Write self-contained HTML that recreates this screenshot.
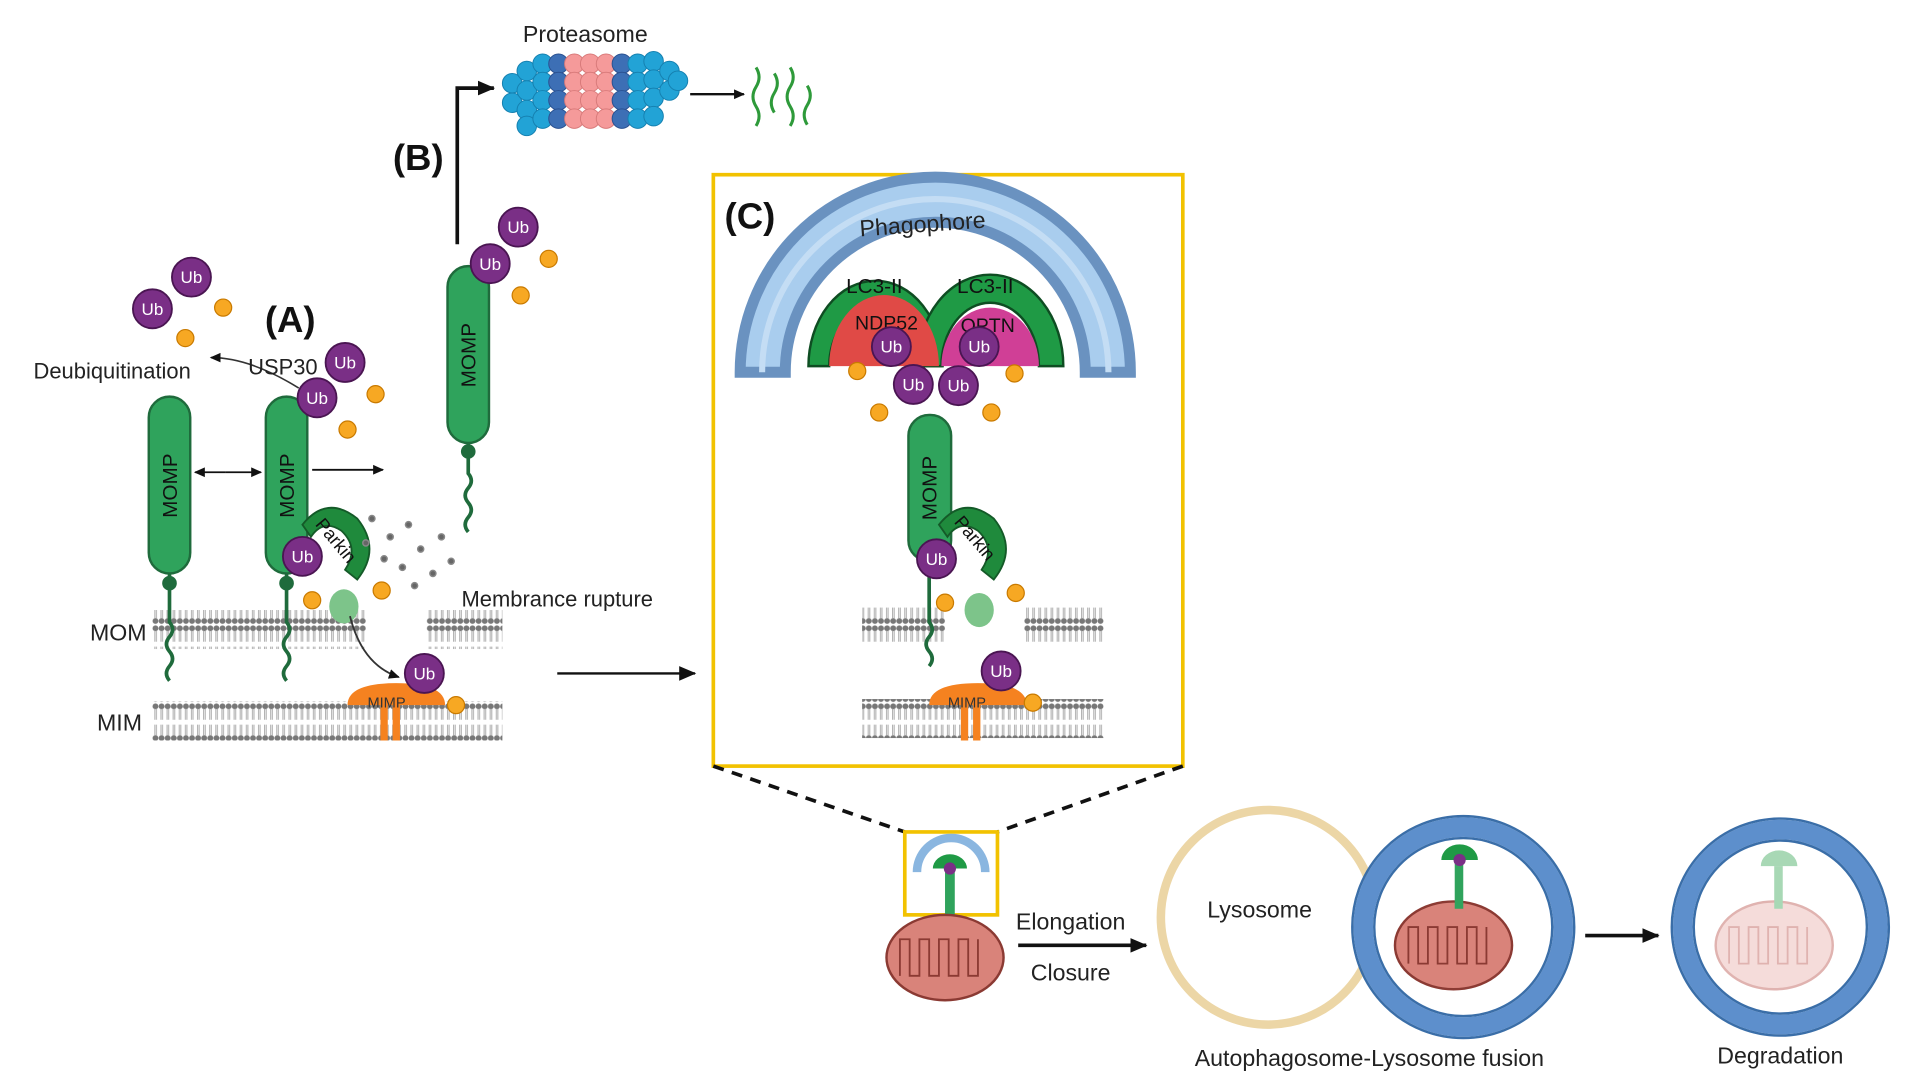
<!DOCTYPE html>
<html><head><meta charset="utf-8"><style>
html,body{margin:0;padding:0;background:#fff;}
svg{display:block;}
text{font-family:"Liberation Sans",sans-serif;}
</style></head><body>
<svg width="1912" height="1092" viewBox="0 0 1568 895" xmlns="http://www.w3.org/2000/svg">
<defs>
<pattern id="mem" x="0" y="0" width="5" height="32" patternUnits="userSpaceOnUse">
<circle cx="2.5" cy="3" r="2.4" fill="#777"/>
<circle cx="2.5" cy="29" r="2.4" fill="#777"/>
<line x1="2" y1="5" x2="2" y2="14" stroke="#aaa" stroke-width="0.8"/>
<line x1="3.3" y1="5" x2="3.3" y2="14" stroke="#aaa" stroke-width="0.8"/>
<line x1="2" y1="18" x2="2" y2="27" stroke="#aaa" stroke-width="0.8"/>
<line x1="3.3" y1="18" x2="3.3" y2="27" stroke="#aaa" stroke-width="0.8"/>
</pattern>
<marker id="ar" markerWidth="16" markerHeight="16" refX="13" refY="8" orient="auto" markerUnits="userSpaceOnUse"><path d="M0,2 L14,8 L0,14 Z" fill="#111"/></marker>
<marker id="as" markerWidth="10" markerHeight="10" refX="8" refY="5" orient="auto" markerUnits="userSpaceOnUse"><path d="M0,1 L9,5 L0,9 Z" fill="#111"/></marker>
<g id="ub"><circle r="16" fill="#7a2f86" stroke="#4a1552" stroke-width="1.5"/></g>
<g id="ph"><circle r="7" fill="#f7a823" stroke="#c97a00" stroke-width="1"/></g>
<g id="cb"><circle r="8" fill="#22a3d6" stroke="#1580b0" stroke-width="0.8"/></g>
<g id="cd"><circle r="8" fill="#3d6fb5" stroke="#2a5090" stroke-width="0.8"/></g>
<g id="cp"><circle r="8" fill="#f59a9a" stroke="#d87a7a" stroke-width="0.8"/></g>
</defs>

<!-- Proteasome -->
<text x="480" y="34" font-size="19" text-anchor="middle" fill="#222">Proteasome</text>
<g>
<use href="#cb" x="420" y="68"/><use href="#cb" x="420" y="84"/>
<use href="#cb" x="432" y="58"/><use href="#cb" x="432" y="74"/><use href="#cb" x="432" y="90"/><use href="#cb" x="432" y="103"/>
<use href="#cb" x="445" y="52"/><use href="#cb" x="445" y="67"/><use href="#cb" x="445" y="82"/><use href="#cb" x="445" y="97"/>
<use href="#cd" x="458" y="52"/><use href="#cd" x="458" y="67"/><use href="#cd" x="458" y="82"/><use href="#cd" x="458" y="97"/>
<use href="#cp" x="471" y="52"/><use href="#cp" x="471" y="67"/><use href="#cp" x="471" y="82"/><use href="#cp" x="471" y="97"/>
<use href="#cp" x="484" y="52"/><use href="#cp" x="484" y="67"/><use href="#cp" x="484" y="82"/><use href="#cp" x="484" y="97"/>
<use href="#cp" x="497" y="52"/><use href="#cp" x="497" y="67"/><use href="#cp" x="497" y="82"/><use href="#cp" x="497" y="97"/>
<use href="#cd" x="510" y="52"/><use href="#cd" x="510" y="67"/><use href="#cd" x="510" y="82"/><use href="#cd" x="510" y="97"/>
<use href="#cb" x="523" y="52"/><use href="#cb" x="523" y="67"/><use href="#cb" x="523" y="82"/><use href="#cb" x="523" y="97"/>
<use href="#cb" x="536" y="50"/><use href="#cb" x="536" y="65"/><use href="#cb" x="536" y="80"/><use href="#cb" x="536" y="95"/>
<use href="#cb" x="549" y="58"/><use href="#cb" x="549" y="74"/><use href="#cb" x="556" y="66"/>
</g>
<line x1="566" y1="77" x2="610" y2="77" stroke="#111" stroke-width="2" marker-end="url(#as)"/>
<g stroke="#2e9a3a" stroke-width="2.5" fill="none">
<path d="M620,55 q5,8 0,16 q-5,8 0,16 q5,8 0,16"/>
<path d="M635,60 q5,8 0,16 q-5,8 0,16"/>
<path d="M648,55 q5,8 0,16 q-5,8 0,16 q5,8 0,16"/>
<path d="M662,70 q5,8 0,16 q-5,8 0,16"/>
</g>
<path d="M375,200 L375,72 L405,72" stroke="#111" stroke-width="3" fill="none" marker-end="url(#ar)"/>
<text x="343" y="139" font-size="30" font-weight="bold" text-anchor="middle" fill="#111">(B)</text>
<text x="238" y="272" font-size="30" font-weight="bold" text-anchor="middle" fill="#111">(A)</text>

<!-- Membranes A -->
<rect x="125" y="500" width="175" height="32" fill="url(#mem)"/>
<rect x="350" y="500" width="62" height="32" fill="url(#mem)"/>
<rect x="125" y="575" width="287" height="32" fill="url(#mem)"/>
<text x="97" y="525" font-size="19" text-anchor="middle" fill="#222">MOM</text>
<text x="98" y="599" font-size="19" text-anchor="middle" fill="#222">MIM</text>
<text x="457" y="497" font-size="18" text-anchor="middle" fill="#222">Membrance rupture</text>
<line x1="457" y1="552" x2="570" y2="552" stroke="#111" stroke-width="2" marker-end="url(#ar)"/>

<!-- MOMP rods -->
<g fill="#2fa35c" stroke="#1f6b3c" stroke-width="2">
<rect x="122" y="325" width="34" height="145" rx="17"/>
<rect x="218" y="325" width="34" height="145" rx="17"/>
<rect x="367" y="218" width="34" height="145" rx="17"/>
</g>
<g stroke="#1f6b3c" stroke-width="3" fill="none">
<path d="M139,470 v40 q5,6 0,12 q-5,6 0,12 q5,6 0,12 q-5,6 0,12"/>
<path d="M235,470 v40 q5,6 0,12 q-5,6 0,12 q5,6 0,12 q-5,6 0,12"/>
<path d="M384,363 v25 q5,6 0,12 q-5,6 0,12 q5,6 0,12 q-5,6 0,12"/>
</g>
<g fill="#1f6b3c"><circle cx="139" cy="478" r="6"/><circle cx="235" cy="478" r="6"/><circle cx="384" cy="370" r="6"/></g>
<g font-size="17" fill="#111" text-anchor="middle">
<text transform="translate(145,398) rotate(-90)">MOMP</text>
<text transform="translate(241,398) rotate(-90)">MOMP</text>
<text transform="translate(390,291) rotate(-90)">MOMP</text>
</g>
<line x1="185" y1="387" x2="160" y2="387" stroke="#111" stroke-width="1.5" marker-end="url(#as)"/>
<line x1="185" y1="387" x2="214" y2="387" stroke="#111" stroke-width="1.5" marker-end="url(#as)"/>
<line x1="256" y1="385" x2="314" y2="385" stroke="#111" stroke-width="1.5" marker-end="url(#as)"/>

<!-- Parkin A -->
<path d="M248,430 q20,-25 45,-5 q20,25 0,50 l-10,-8 q12,-18 -3,-32 q-15,-10 -25,5 z" fill="#1f8a3c" stroke="#145a28" stroke-width="1.5"/>
<text transform="translate(258,430) rotate(50)" font-size="15" fill="#111">Parkin</text>
<ellipse cx="282" cy="497" rx="12" ry="14" fill="#7dc48a"/>
<path d="M287,505 q10,40 40,50" stroke="#333" stroke-width="1.5" fill="none" marker-end="url(#as)"/>
<g stroke="#888" stroke-width="1.2" fill="#666">
<circle cx="305" cy="425" r="2.5"/><circle cx="320" cy="440" r="2.5"/><circle cx="335" cy="430" r="2.5"/><circle cx="345" cy="450" r="2.5"/><circle cx="330" cy="465" r="2.5"/><circle cx="355" cy="470" r="2.5"/><circle cx="315" cy="458" r="2.5"/><circle cx="362" cy="440" r="2.5"/><circle cx="340" cy="480" r="2.5"/><circle cx="370" cy="460" r="2.5"/><circle cx="300" cy="445" r="2.5"/>
</g>
<path d="M285,578 q0,-18 40,-18 q40,0 40,18 z" fill="#f58220"/>
<rect x="312" y="575" width="6" height="32" fill="#f58220"/><rect x="322" y="575" width="6" height="32" fill="#f58220"/>
<text x="317" y="580" font-size="12" text-anchor="middle" fill="#333">MIMP</text>

<g>
<use href="#ub" x="157" y="227"/><use href="#ub" x="125" y="253"/>
<use href="#ph" x="183" y="252"/><use href="#ph" x="152" y="277"/>
<use href="#ub" x="283" y="297"/><use href="#ub" x="260" y="326"/>
<use href="#ph" x="308" y="323"/><use href="#ph" x="285" y="352"/>
<use href="#ub" x="425" y="186"/><use href="#ub" x="402" y="216"/>
<use href="#ph" x="450" y="212"/><use href="#ph" x="427" y="242"/>
<use href="#ub" x="248" y="456"/><use href="#ph" x="256" y="492"/><use href="#ph" x="313" y="484"/>
<use href="#ub" x="348" y="552"/><use href="#ph" x="374" y="578"/>
</g>
<g font-size="14" fill="#fff" text-anchor="middle">
<text x="157" y="232">Ub</text><text x="125" y="258">Ub</text><text x="283" y="302">Ub</text><text x="260" y="331">Ub</text>
<text x="425" y="191">Ub</text><text x="402" y="221">Ub</text><text x="248" y="461">Ub</text><text x="348" y="557">Ub</text>
</g>
<path d="M245,318 q-40,-25 -72,-25" stroke="#333" stroke-width="1.3" fill="none" marker-end="url(#as)"/>
<text x="92" y="310" font-size="18" text-anchor="middle" fill="#222">Deubiquitination</text>
<text x="232" y="307" font-size="18" text-anchor="middle" fill="#222">USP30</text>

<!-- Box C -->
<rect x="585" y="143" width="385" height="485" fill="none" stroke="#f2c200" stroke-width="3"/>
<text x="615" y="187" font-size="30" font-weight="bold" text-anchor="middle" fill="#111">(C)</text>
<path d="M607,305 A160,160 0 0 1 927,305 L890,305 A123,123 0 0 0 644,305 Z" fill="#a9cdee" stroke="#6a92c0" stroke-width="9"/>
<path d="M625,305 A142,142 0 0 1 909,305" fill="none" stroke="#c4ddf4" stroke-width="5"/>
<text x="757" y="190" font-size="19" text-anchor="middle" fill="#222" transform="rotate(-4 757 190)">Phagophore</text>
<path d="M663,300 A55,70 0 0 1 773,300 L755,300 A37,48 0 0 0 680,300 Z" fill="#1f9a45" stroke="#0e4d22" stroke-width="2"/>
<path d="M752,300 A60,75 0 0 1 872,300 L852,300 A40,52 0 0 0 772,300 Z" fill="#1f9a45" stroke="#0e4d22" stroke-width="2"/>
<path d="M680,300 A37,48 0 0 1 770,300 Z" fill="#e04a46"/>
<path d="M772,300 A40,48 0 0 1 852,300 Z" fill="#d03f96"/>
<text x="717" y="240" font-size="17" fill="#111" text-anchor="middle">LC3-II</text>
<text x="808" y="240" font-size="17" fill="#111" text-anchor="middle">LC3-II</text>
<text x="727" y="270" font-size="16" fill="#111" text-anchor="middle">NDP52</text>
<text x="810" y="272" font-size="16" fill="#111" text-anchor="middle">OPTN</text>
<rect x="707" y="497" width="68" height="32" fill="url(#mem)"/>
<rect x="840" y="497" width="65" height="32" fill="url(#mem)"/>
<rect x="707" y="573" width="198" height="32" fill="url(#mem)"/>
<rect x="745" y="340" width="35" height="120" rx="17" fill="#2fa35c" stroke="#1f6b3c" stroke-width="2"/>
<text transform="translate(768,400) rotate(-90)" font-size="17" fill="#111" text-anchor="middle">MOMP</text>
<path d="M762,460 v50 q5,6 0,12 q-5,6 0,12 q5,6 0,12" stroke="#1f6b3c" stroke-width="3" fill="none"/>
<path d="M770,430 q20,-25 45,-5 q20,25 0,50 l-10,-8 q12,-18 -3,-32 q-15,-10 -25,5 z" fill="#1f8a3c" stroke="#145a28" stroke-width="1.5"/>
<text transform="translate(782,428) rotate(50)" font-size="15" fill="#111">Parkin</text>
<ellipse cx="803" cy="500" rx="12" ry="14" fill="#7dc48a"/>
<path d="M762,578 q0,-18 40,-18 q40,0 40,18 z" fill="#f58220"/>
<rect x="788" y="575" width="6" height="32" fill="#f58220"/><rect x="798" y="575" width="6" height="32" fill="#f58220"/>
<text x="793" y="580" font-size="12" text-anchor="middle" fill="#333">MIMP</text>
<g>
<use href="#ub" x="731" y="284"/><use href="#ub" x="803" y="284"/>
<use href="#ub" x="749" y="315"/><use href="#ub" x="786" y="316"/>
<use href="#ph" x="703" y="304"/><use href="#ph" x="832" y="306"/>
<use href="#ph" x="721" y="338"/><use href="#ph" x="813" y="338"/>
<use href="#ub" x="768" y="458"/><use href="#ph" x="775" y="494"/><use href="#ph" x="833" y="486"/>
<use href="#ub" x="821" y="550"/><use href="#ph" x="847" y="576"/>
</g>
<g font-size="14" fill="#fff" text-anchor="middle">
<text x="731" y="289">Ub</text><text x="803" y="289">Ub</text><text x="749" y="320">Ub</text><text x="786" y="321">Ub</text><text x="768" y="463">Ub</text><text x="821" y="555">Ub</text>
</g>

<line x1="585" y1="628" x2="742" y2="682" stroke="#111" stroke-width="3" stroke-dasharray="9,7"/>
<line x1="970" y1="628" x2="818" y2="682" stroke="#111" stroke-width="3" stroke-dasharray="9,7"/>
<rect x="742" y="682" width="76" height="68" fill="none" stroke="#f2c200" stroke-width="3"/>
<path d="M752,715 A28,28 0 0 1 808,715" fill="none" stroke="#8ab6e0" stroke-width="7"/>
<rect x="775" y="715" width="8" height="35" fill="#2fa35c"/>
<path d="M765,712 a12,10 0 0 1 28,0 z" fill="#1f9a45"/>
<circle cx="779" cy="712" r="5" fill="#7a2f86"/>
<g>
<ellipse cx="775" cy="785" rx="48" ry="35" fill="#d9837a" stroke="#8b3a33" stroke-width="2"/>
<path d="M738,800 v-30 h8 v30 h8 v-30 h8 v30 h8 v-30 h8 v30 h8 v-30 h8 v30 h8 v-30" fill="none" stroke="#8b3a33" stroke-width="1.5"/>
</g>
<line x1="835" y1="775" x2="940" y2="775" stroke="#111" stroke-width="3" marker-end="url(#ar)"/>
<text x="878" y="762" font-size="19" text-anchor="middle" fill="#222">Elongation</text>
<text x="878" y="804" font-size="19" text-anchor="middle" fill="#222">Closure</text>

<circle cx="1040" cy="752" r="88" fill="#fff" stroke="#ecd6a6" stroke-width="7"/>
<text x="1033" y="752" font-size="19" text-anchor="middle" fill="#222">Lysosome</text>
<circle cx="1200" cy="760" r="82" fill="#fff" stroke="#5d8fcc" stroke-width="16"/>
<circle cx="1200" cy="760" r="91" fill="none" stroke="#3a6ea8" stroke-width="2"/>
<circle cx="1200" cy="760" r="73" fill="none" stroke="#3a6ea8" stroke-width="2"/>
<ellipse cx="1192" cy="775" rx="48" ry="36" fill="#d9837a" stroke="#8b3a33" stroke-width="2"/>
<path d="M1155,790 v-30 h8 v30 h8 v-30 h8 v30 h8 v-30 h8 v30 h8 v-30 h8 v30 h8 v-30" fill="none" stroke="#8b3a33" stroke-width="1.5"/>
<rect x="1193" y="705" width="7" height="40" fill="#2fa35c"/>
<path d="M1182,705 a14,12 0 0 1 30,0 z" fill="#1f9a45"/>
<circle cx="1197" cy="705" r="5" fill="#7a2f86"/>
<text x="1123" y="874" font-size="19" text-anchor="middle" fill="#222">Autophagosome-Lysosome fusion</text>
<line x1="1300" y1="767" x2="1360" y2="767" stroke="#111" stroke-width="3" marker-end="url(#ar)"/>
<circle cx="1460" cy="760" r="80" fill="#fff" stroke="#5d8fcc" stroke-width="16"/>
<circle cx="1460" cy="760" r="89" fill="none" stroke="#3a6ea8" stroke-width="2"/>
<circle cx="1460" cy="760" r="71" fill="none" stroke="#3a6ea8" stroke-width="2"/>
<ellipse cx="1455" cy="775" rx="48" ry="36" fill="#f5dcda" stroke="#e0b3b0" stroke-width="2"/>
<path d="M1418,790 v-30 h8 v30 h8 v-30 h8 v30 h8 v-30 h8 v30 h8 v-30 h8 v30 h8 v-30" fill="none" stroke="#e0b3b0" stroke-width="1.5"/>
<rect x="1455" y="710" width="7" height="35" fill="#a8d8b5"/>
<path d="M1444,710 a14,12 0 0 1 30,0 z" fill="#a8d8b5"/>
<text x="1460" y="872" font-size="19" text-anchor="middle" fill="#222">Degradation</text>
</svg>
</body></html>
